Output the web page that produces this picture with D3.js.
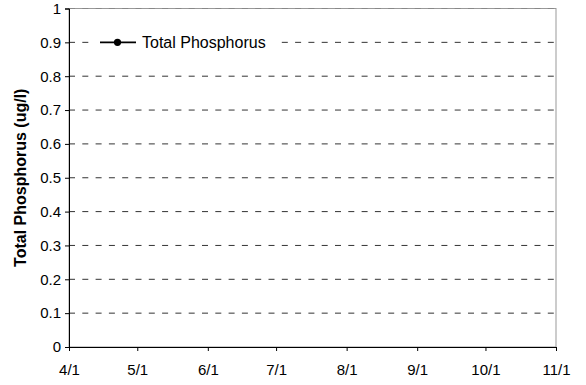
<!DOCTYPE html>
<html>
<head>
<meta charset="utf-8">
<script src="https://cdn.jsdelivr.net/npm/d3@7"></script>
<style>
  html, body { margin: 0; padding: 0; background: #fff; }
  svg { display: block; font-family: "Liberation Sans", Arial, sans-serif; }
</style>
</head>
<body>
<svg id="chart" width="586" height="385"></svg>
<script>
// ---- Data ----
const seriesName = "Total Phosphorus";
const dates = [];          // no measurements shown in the reference
const values = [];
const xTickLabels = ["4/1", "5/1", "6/1", "7/1", "8/1", "9/1", "10/1", "11/1"];
const yTickValues = [0, 0.1, 0.2, 0.3, 0.4, 0.5, 0.6, 0.7, 0.8, 0.9, 1];
const yTitle = "Total Phosphorus (ug/l)";
const year = 2000;

(function () {
// ---- Layout ----
const svg = d3.select("#chart");
const FONT = "'Liberation Sans', Arial, sans-serif";
const pL = 69, pR = 556, pT = 8.5, pB = 347;
const parse = s => { const [m, d] = s.split("/").map(Number); return new Date(year, m - 1, d); };
const xTicks = xTickLabels.map(parse);

const x = d3.scaleTime().domain([xTicks[0], xTicks[xTicks.length - 1]]).range([pL, pR]);
const y = d3.scaleLinear().domain([0, 1]).range([pB, pT]);

// plot frame (top/right grey)
svg.append("rect").attr("x", pL).attr("y", pT).attr("width", pR - pL).attr("height", pB - pT)
  .attr("fill", "none").attr("stroke", "#999").attr("stroke-width", 1);

// gridlines
svg.append("g").selectAll("line").data(yTickValues.filter(v => v > 0)).join("line")
  .attr("x1", pL).attr("x2", pR)
  .attr("y1", d => y(d)).attr("y2", d => y(d))
  .attr("stroke", d => d === 1 ? "#888" : "#333").attr("stroke-width", 1).attr("stroke-dasharray", "6,7.3");

// y axis
const yAxis = svg.append("g").attr("transform", `translate(${pL},0)`)
  .call(d3.axisLeft(y).tickValues(yTickValues).tickSize(4).tickPadding(4).tickFormat(d3.format("~g")));
yAxis.select(".domain").attr("stroke", "#000");
yAxis.selectAll("text").attr("font-size", 15).attr("fill", "#000").style("font-family", FONT);

// x axis
const xAxis = svg.append("g").attr("transform", `translate(0,${pB})`)
  .call(d3.axisBottom(x).tickValues(xTicks).tickSize(4).tickPadding(13)
    .tickFormat((d, i) => xTickLabels[i]));
xAxis.select(".domain").attr("stroke", "#000");
xAxis.selectAll("text").attr("font-size", 15).attr("fill", "#000").style("font-family", FONT);

// y title
svg.append("text")
  .attr("transform", `translate(20,${(pT + pB) / 2}) rotate(-90)`)
  .attr("text-anchor", "middle").attr("dominant-baseline", "central")
  .attr("font-size", 16).attr("font-weight", "bold").style("font-family", FONT).text(yTitle);

// series (empty)
const line = d3.line().x((d, i) => x(parse(dates[i]))).y(d => y(d));
svg.append("path").datum(values).attr("d", line).attr("fill", "none").attr("stroke", "#000");

// legend
const lg = svg.append("g");
const ly = y(0.9);
lg.append("rect").attr("x", 95).attr("y", ly - 8).attr("width", 186).attr("height", 16).attr("fill", "#fff");
lg.append("line").attr("x1", 100).attr("x2", 136).attr("y1", ly).attr("y2", ly).attr("stroke", "#000").attr("stroke-width", 1.6);
lg.append("circle").attr("cx", 117.5).attr("cy", ly).attr("r", 3.6).attr("fill", "#000");
lg.append("text").attr("x", 142).attr("y", ly).attr("dominant-baseline", "central")
  .attr("font-size", 16).style("font-family", FONT).text(seriesName);
})();
</script>
</body>
</html>
